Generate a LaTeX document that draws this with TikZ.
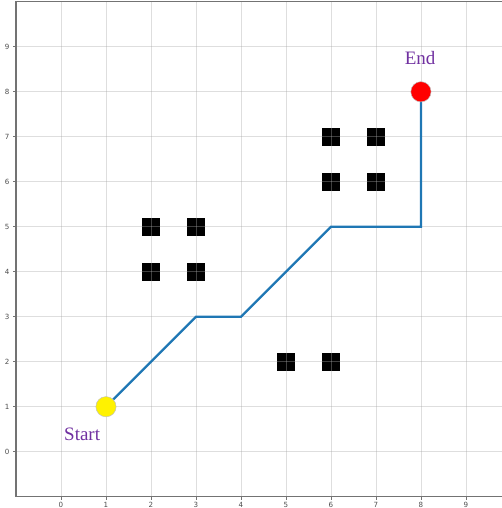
\documentclass[tikz,border=0pt]{standalone}
\usepackage{fontspec}
\setsansfont{DejaVu Sans}
\setmainfont{Liberation Serif}
\definecolor{mplblue}{RGB}{31,119,180}
\definecolor{labpurple}{RGB}{112,48,160}
\definecolor{gridgray}{RGB}{167,167,167}
\pgfdeclarelayer{bg}
\pgfdeclarelayer{mid}
\pgfsetlayers{bg,mid,main}
\begin{document}
\begin{tikzpicture}[x=1cm,y=1cm,
  gridline/.style={draw=gridgray,draw opacity=0.38,line width=0.5pt},
  spine/.style={draw=black!55,line width=0.8pt},
  obstacle/.style={fill=black,draw=none,minimum size=0.4cm,inner sep=0pt,rectangle},
  ticklab/.style={font=\sffamily\fontsize{4.5}{5}\selectfont,text=black!70,inner sep=0pt},
  marker/.style={circle,minimum size=0.45cm,inner sep=0pt,draw=black!25,line width=0.3pt},
  pathline/.style={draw=mplblue,line width=1.5pt,line join=miter},
  lab/.style={text=labpurple,font=\fontsize{12}{14}\selectfont,inner sep=0pt}]
\useasboundingbox (-1.356,-1.251) rectangle (9.8,10.04);
\clip (-1.356,-1.251) rectangle (9.8,10.04);
\begin{pgfonlayer}{bg}
% obstacles
\foreach \x/\y/\n in {2/4/a,2/5/b,3/4/c,3/5/d,5/2/e,6/2/f,6/6/g,6/7/h,7/6/i,7/7/j}{
  \node[obstacle] (obs\n) at (\x,\y) {};
}
% grid
\foreach \i in {0,...,9}{
  \draw[gridline] (\i,-1) -- (\i,10);
  \draw[gridline] (-1,\i) -- (10,\i);
  \draw[spine,line width=0.5pt] (\i,-1) -- (\i,-1.07);
  \draw[spine,line width=0.5pt] (-1,\i) -- (-1.07,\i);
  \node[ticklab] (xt\i) at (\i,-1.19) {\i};
  \node[ticklab] (yt\i) at (-1.2,\i) {\i};
}
\draw[spine] (-1,-1) rectangle (10,10);
\end{pgfonlayer}
% markers
\node[marker,fill=yellow] (start) at (1,1) {};
\node[marker,fill=red] (end) at (8,8) {};
% path
\coordinate (p1) at (3,3);
\coordinate (p2) at (4,3);
\coordinate (p3) at (6,5);
\coordinate (p4) at (8,5);
\begin{pgfonlayer}{mid}
\draw[pathline] (start.center) -- (p1) -- (p2) -- (p3) -- (p4) -- (end.center);
\end{pgfonlayer}
\node[lab] (startlab) at (0.47,0.38) {Start};
\node[lab] (endlab) at (7.98,8.76) {End};
\end{tikzpicture}
\end{document}
